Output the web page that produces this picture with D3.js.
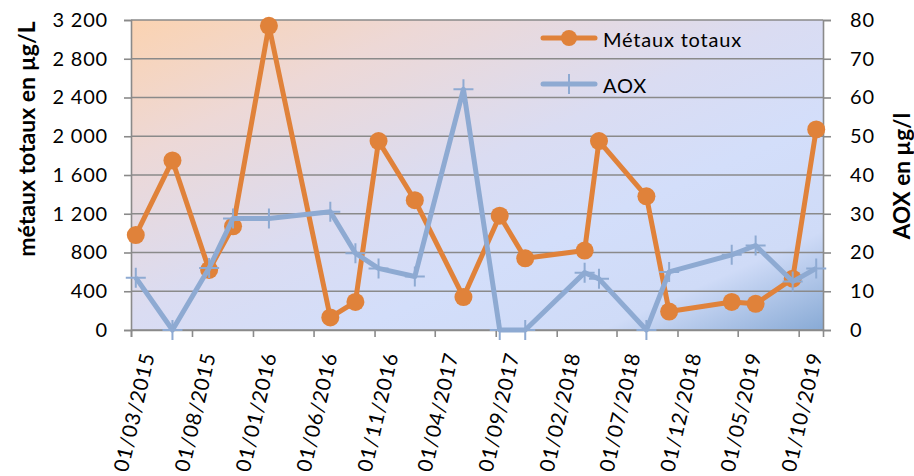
<!DOCTYPE html>
<html>
<head>
<meta charset="utf-8">
<script src="https://cdn.jsdelivr.net/npm/d3@7"></script>
<style>
  html, body { margin: 0; padding: 0; background: #fff; }
  svg { display: block; font-family: Lato, "Open Sans", sans-serif; }
</style>
</head>
<body>
<svg id="chart" width="914" height="476"></svg>
<script>
// Sampling dates (dd/mm/yyyy)
const sampleDates = [
  "13/03/2015", "13/06/2015", "13/09/2015", "12/11/2015", "10/02/2016",
  "13/07/2016", "14/09/2016", "11/11/2016", "10/02/2017", "12/06/2017",
  "11/09/2017", "14/11/2017", "12/04/2018", "18/05/2018", "14/09/2018",
  "10/11/2018", "16/04/2019", "15/06/2019", "16/09/2019", "14/11/2019"
];
// Total metals, µg/L (left axis)
const metauxTotaux = [980, 1750, 620, 1070, 3140, 130, 290, 1950, 1340, 340,
                      1180, 740, 820, 1950, 1380, 190, 290, 270, 530, 2070];
// AOX, µg/l (right axis)
const aox = [13.5, 0, 16, 28.8, 28.8, 30.5, 19.8, 15.9, 13.8, 62.1,
             0, 0, 14.8, 13.2, 0, 15, 19.4, 21.8, 12.5, 15.9];

const xTickLabels = ["01/03/2015", "01/08/2015", "01/01/2016", "01/06/2016",
  "01/11/2016", "01/04/2017", "01/09/2017", "01/02/2018", "01/07/2018",
  "01/12/2018", "01/05/2019", "01/10/2019"];
const leftTicks = [0, 400, 800, 1200, 1600, 2000, 2400, 2800, 3200];
const rightTicks = [0, 10, 20, 30, 40, 50, 60, 70, 80];
const xDomain = ["01/03/2015", "01/12/2019"];

const seriesNames = ["Métaux totaux", "AOX"];
const leftTitle = "métaux totaux en µg/L";
const rightTitle = "AOX en µg/l";

const parse = d3.timeParse("%d/%m/%Y");
const fmtNum = v => d3.format(",")(v).replace(/,/g, "\u00a0");

const svg = d3.select("#chart");
const m = { left: 131, right: 823, top: 20, bottom: 330 };

const x = d3.scaleTime().domain(xDomain.map(parse)).range([m.left, m.right]);
const yL = d3.scaleLinear().domain([0, 3200]).range([m.bottom, m.top]);
const yR = d3.scaleLinear().domain([0, 80]).range([m.bottom, m.top]);

const orange = "#e0823a";
const blue = "#8eaad2";
const gridCol = "#8a8a8a";

// Plot-area gradient fill
const defs = svg.append("defs");
const grad = defs.append("linearGradient").attr("id", "bg")
  .attr("x1", 0).attr("y1", 0).attr("x2", 1).attr("y2", 1);
[[0, "#fbd3b1"], [0.22, "#edd8d6"], [0.48, "#dadcf2"], [0.66, "#d3defa"],
 [0.84, "#cfdbf7"], [1, "#88aad5"]].forEach(([o, c]) =>
  grad.append("stop").attr("offset", o).attr("stop-color", c));

svg.append("rect")
  .attr("x", m.left).attr("y", m.top)
  .attr("width", m.right - m.left).attr("height", m.bottom - m.top)
  .attr("fill", "url(#bg)");

// Horizontal gridlines
svg.append("g").selectAll("line").data(leftTicks).join("line")
  .attr("x1", m.left).attr("x2", m.right)
  .attr("y1", d => yL(d)).attr("y2", d => yL(d))
  .attr("stroke", gridCol).attr("stroke-width", 1.6);

// Left axis
const gL = svg.append("g").attr("transform", `translate(${m.left},0)`)
  .call(d3.axisLeft(yL).tickValues(leftTicks).tickSize(7).tickPadding(16)
    .tickFormat(fmtNum));
// Right axis
const gR = svg.append("g").attr("transform", `translate(${m.right},0)`)
  .call(d3.axisRight(yR).tickValues(rightTicks).tickSize(8).tickPadding(19)
    .tickFormat(d3.format("d")));
// Bottom axis
const xTicks = xTickLabels.map(parse);
const gB = svg.append("g").attr("transform", `translate(0,${m.bottom})`)
  .call(d3.axisBottom(x).tickValues(xTicks).tickSize(7)
    .tickFormat(d3.timeFormat("%d/%m/%Y")));

[gL, gR, gB].forEach(g => {
  g.select(".domain").attr("stroke", gridCol).attr("stroke-width", 1.6);
  g.selectAll(".tick line").attr("stroke", gridCol).attr("stroke-width", 1.6);
  g.selectAll(".tick text").attr("fill", "#000")
    .style("font-size", "20px").style("letter-spacing", "0.8px")
    .style("font-family", "Lato, sans-serif");
});
gB.selectAll(".tick text")
  .attr("y", null).attr("dy", null)
  .attr("text-anchor", "middle")
  .attr("dominant-baseline", "central")
  .style("font-size", "20.5px")
  .attr("transform", "translate(2,82) rotate(-77)");

// Series lines
const pts = sampleDates.map(parse);
const lineL = d3.line().x((d, i) => x(pts[i])).y(d => yL(d));
const lineR = d3.line().x((d, i) => x(pts[i])).y(d => yR(d));

svg.append("path").datum(metauxTotaux)
  .attr("d", lineL).attr("fill", "none")
  .attr("stroke", orange).attr("stroke-width", 5).attr("stroke-linejoin", "round");
svg.append("g").selectAll("circle").data(metauxTotaux).join("circle")
  .attr("cx", (d, i) => x(pts[i])).attr("cy", d => yL(d))
  .attr("r", 9).attr("fill", orange);

svg.append("path").datum(aox)
  .attr("d", lineR).attr("fill", "none")
  .attr("stroke", blue).attr("stroke-width", 5).attr("stroke-linejoin", "round");
svg.append("g").selectAll("path").data(aox).join("path")
  .attr("transform", (d, i) => `translate(${x(pts[i])},${yR(d)})`)
  .attr("d", "M-10,0H10M0,-10V10")
  .attr("stroke", blue).attr("stroke-width", 2);

// Legend
const lg = svg.append("g");
const legendRows = [
  { name: seriesNames[0], y: 38, color: orange, mark: "circle" },
  { name: seriesNames[1], y: 84, color: blue, mark: "plus" }
];
legendRows.forEach(r => {
  lg.append("line").attr("x1", 543).attr("x2", 595).attr("y1", r.y).attr("y2", r.y)
    .attr("stroke", r.color).attr("stroke-width", 5).attr("stroke-linecap", "round");
  if (r.mark === "circle") {
    lg.append("circle").attr("cx", 569).attr("cy", r.y).attr("r", 8).attr("fill", r.color);
  } else {
    lg.append("path").attr("transform", `translate(569,${r.y})`)
      .attr("d", "M-10,0H10M0,-10V10").attr("stroke", r.color).attr("stroke-width", 2);
  }
  lg.append("text").attr("x", 603).attr("y", r.y + 1)
    .attr("dominant-baseline", "central")
    .style("font-size", "20px").style("letter-spacing", "0.8px")
    .text(r.name);
});

// Axis titles
svg.append("text")
  .attr("transform", "translate(26,139) rotate(-90)")
  .attr("text-anchor", "middle").attr("dominant-baseline", "central")
  .style("font-size", "23px").style("font-weight", "bold")
  .text(leftTitle);
svg.append("text")
  .attr("transform", "translate(901,176) rotate(-90)")
  .attr("text-anchor", "middle").attr("dominant-baseline", "central")
  .style("font-size", "22.5px").style("font-weight", "bold")
  .text(rightTitle);
</script>
</body>
</html>
